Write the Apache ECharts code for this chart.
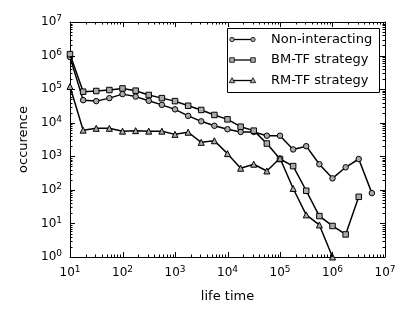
<!DOCTYPE html>
<html>
<head>
<meta charset="utf-8">
<script src="https://cdn.jsdelivr.net/npm/echarts@6/dist/echarts.min.js"></script>
<style>
html,body{margin:0;padding:0;background:#fff;}
#c{width:415px;height:311px;}
</style>
</head>
<body>
<div id="c"></div>
<script>
// life time bins (x)
var lifetimes = [10, 17.8, 31.6, 56.2, 100, 178, 316, 562, 1000, 1780, 3160, 5620,
  10000, 17800, 31600, 56200, 100000, 178000, 316000, 562000, 1000000, 1780000, 3160000, 5620000];
var nonInteracting = [9e5, 4.7e4, 4.4e4, 5.4e4, 7.1e4, 6.0e4, 4.5e4, 3.4e4, 2.5e4, 1.6e4, 1.1e4, 8.1e3,
  6.4e3, 5.3e3, 5.3e3, 4.1e3, 4.1e3, 1.6e3, 2.0e3, 580, 220, 470, 830, 80];
var bmtf = [1.1e6, 8.4e4, 8.8e4, 9.4e4, 1.05e5, 9.0e4, 6.7e4, 5.4e4, 4.4e4, 3.2e4, 2.4e4, 1.7e4,
  1.26e4, 7.6e3, 5.8e3, 2.4e3, 830, 510, 94, 16.6, 8.4, 4.7, 62];
var rmtf = [1.2e5, 6.0e3, 6.8e3, 6.8e3, 5.6e3, 5.8e3, 5.6e3, 5.6e3, 4.5e3, 5.2e3, 2.6e3, 2.9e3,
  1.2e3, 440, 580, 365, 870, 110, 18, 9, 1];
var seriesNames = ['Non-interacting', 'BM-TF strategy', 'RM-TF strategy'];
var seriesSymbols = ['circle', 'rect', 'triangle'];
var xName = 'life time';
var yName = 'occurence';
var xDecades = [1, 2, 3, 4, 5, 6, 7];
var yDecades = [0, 1, 2, 3, 4, 5, 6, 7];

function pairs(vals) {
  return vals.map(function (v, i) { return [lifetimes[i], v]; });
}
var minorMultipliers = [2, 3, 4, 5, 6, 7, 8, 9];
function minorValues(decades) {
  var out = [];
  for (var i = 0; i < decades.length - 1; i++) {
    for (var j = 0; j < minorMultipliers.length; j++) out.push(minorMultipliers[j] * Math.pow(10, decades[i]));
  }
  return out;
}
var minorX = minorValues(xDecades).map(function (v) { return [v, 1]; });
var minorY = minorValues(yDecades).map(function (v) { return [10, v]; });
var majorX = xDecades.map(function (d) { return [Math.pow(10, d), 1]; });
var majorY = yDecades.map(function (d) { return [10, Math.pow(10, d)]; });

var FONT = 'DejaVu Sans';
function powLabel(v) {
  var e = Math.round(Math.log10(v));
  return '{b|10}{e|' + e + '}';
}
var rich = {
  b: {fontSize: 12, fontFamily: FONT, color: '#000'},
  e: {fontSize: 9, fontFamily: FONT, color: '#000', verticalAlign: 'top', padding: [0, 0, 6, 0]}
};
function axisBase(extra) {
  var a = {
    type: 'log', logBase: 10,
    axisLine: {show: true, onZero: false, lineStyle: {color: '#000', width: 1}},
    axisTick: {show: false},
    minorTick: {show: false},
    splitLine: {show: false},
    minorSplitLine: {show: false}
  };
  for (var k in extra) a[k] = extra[k];
  return a;
}
var lineStyle = {color: '#000', width: 1.5};
var itemStyle = {color: '#aaaaaa', borderColor: '#000', borderWidth: 1};

// inward ticks on all four sides, placed through the axes' own log scales
function tickSeries(data, isX, L) {
  return {
    type: 'custom', xAxisIndex: 0, yAxisIndex: 0, data: data, silent: true, z: 10, clip: false,
    encode: {x: 0, y: 1},
    renderItem: function (params, api) {
      var cs = params.coordSys;
      var p = api.coord([api.value(0), api.value(1)]);
      var st = {stroke: '#000', lineWidth: 1};
      if (isX) {
        var x = Math.round(p[0]) + 0.5;
        return {type: 'group', children: [
          {type: 'line', shape: {x1: x, y1: cs.y + cs.height, x2: x, y2: cs.y + cs.height - L}, style: st},
          {type: 'line', shape: {x1: x, y1: cs.y, x2: x, y2: cs.y + L}, style: st}
        ]};
      }
      var y = Math.round(p[1]) + 0.5;
      return {type: 'group', children: [
        {type: 'line', shape: {x1: cs.x, y1: y, x2: cs.x + L, y2: y}, style: st},
        {type: 'line', shape: {x1: cs.x + cs.width, y1: y, x2: cs.x + cs.width - L, y2: y}, style: st}
      ]};
    }
  };
}

// legend drawn as graphic (two markers per entry, like the original)
var LX = 227, LY = 28, LW = 152, LH = 64, rowY = [39.5, 60, 80.5];
var legendChildren = [{type: 'rect', shape: {x: LX + 0.5, y: LY + 0.5, width: LW, height: LH},
  style: {fill: '#fff', stroke: '#000', lineWidth: 1}}];
seriesNames.forEach(function (name, i) {
  var y = rowY[i];
  legendChildren.push({type: 'line', shape: {x1: 232, y1: y, x2: 253, y2: y}, style: {stroke: '#000', lineWidth: 1.3}});
  [232, 253].forEach(function (cx) {
    var sym = seriesSymbols[i];
    if (sym === 'circle') legendChildren.push({type: 'circle', shape: {cx: cx, cy: y, r: 2.2}, style: {fill: '#aaaaaa', stroke: '#000', lineWidth: 0.8}});
    else if (sym === 'rect') legendChildren.push({type: 'rect', shape: {x: cx - 2.3, y: y - 2.3, width: 4.6, height: 4.6}, style: {fill: '#aaaaaa', stroke: '#000', lineWidth: 0.8}});
    else legendChildren.push({type: 'polygon', shape: {points: [[cx - 2.8, y + 2.2], [cx, y - 2.8], [cx + 2.8, y + 2.2]]}, style: {fill: '#aaaaaa', stroke: '#000', lineWidth: 0.8}});
  });
  legendChildren.push({type: 'text', x: 271, y: y, style: {text: name, fill: '#000', font: '13px "DejaVu Sans"', verticalAlign: 'middle', align: 'left'}});
});

var chart = echarts.init(document.getElementById('c'), null, {renderer: 'canvas'});
chart.setOption({
  animation: false,
  backgroundColor: '#fff',
  grid: {left: 70, right: 30, top: 22, bottom: 54},
  graphic: [{type: 'group', z: 100, children: legendChildren}],
  xAxis: [
    axisBase({min: 10, max: 1e7, position: 'bottom', name: xName, nameLocation: 'middle', nameGap: 33,
      nameTextStyle: {fontFamily: FONT, fontSize: 13, color: '#000'},
      axisLabel: {show: true, margin: 8, formatter: powLabel, rich: rich}}),
    axisBase({min: 10, max: 1e7, position: 'top', axisLabel: {show: false}})
  ],
  yAxis: [
    axisBase({min: 1, max: 1e7, position: 'left', name: yName, nameLocation: 'middle', nameGap: 36, nameRotate: 90,
      nameTextStyle: {fontFamily: FONT, fontSize: 13, color: '#000'},
      axisLabel: {show: true, margin: 8, formatter: powLabel, rich: rich}}),
    axisBase({min: 1, max: 1e7, position: 'right', axisLabel: {show: false}})
  ],
  series: [
    {name: seriesNames[0], type: 'line', data: pairs(nonInteracting),
      symbol: seriesSymbols[0], symbolSize: 5.5, lineStyle: lineStyle, itemStyle: itemStyle, clip: true, z: 2},
    {name: seriesNames[1], type: 'line', data: pairs(bmtf),
      symbol: seriesSymbols[1], symbolSize: 5.5, lineStyle: lineStyle, itemStyle: itemStyle, clip: true, z: 3},
    {name: seriesNames[2], type: 'line', data: pairs(rmtf),
      symbol: seriesSymbols[2], symbolSize: 6, lineStyle: lineStyle, itemStyle: itemStyle, clip: true, z: 4},
    tickSeries(minorX, true, 2.5),
    tickSeries(minorY, false, 2.5),
    tickSeries(majorX, true, 5),
    tickSeries(majorY, false, 5)
  ]
});
</script>
</body>
</html>
